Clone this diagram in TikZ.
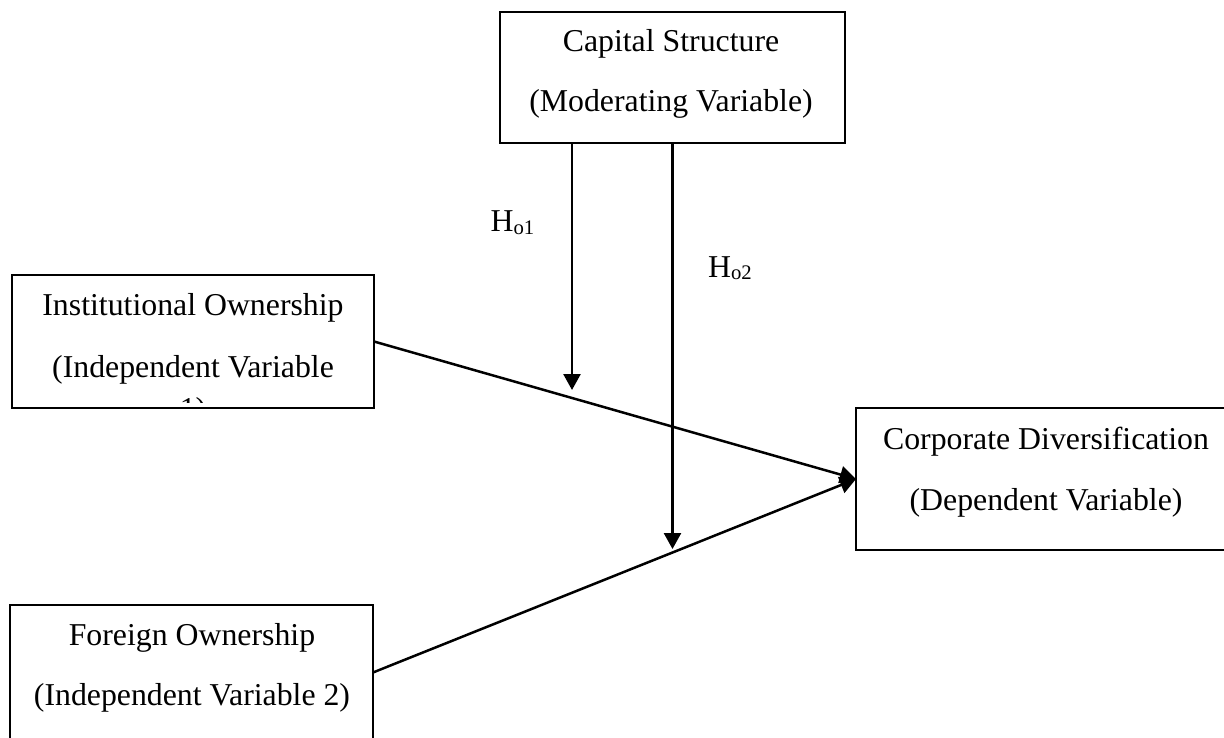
\documentclass[tikz,border=0pt]{standalone}
\usepackage{fontspec}
\setmainfont{Liberation Serif}
\usetikzlibrary{arrows.meta}
\begin{document}
\begin{tikzpicture}[x=1pt,y=-1pt,
  box/.style={draw, line width=2pt, rectangle, inner sep=0pt, outer sep=0pt},
  txt/.style={anchor=base, inner sep=0pt, font=\fontsize{31.8}{38}\selectfont},
  conn/.style={line width=2.5pt, -{Triangle[length=16pt,width=17pt]}},
  hlab/.style={anchor=base, inner sep=0pt, font=\fontsize{31.8}{38}\selectfont}]
\useasboundingbox (0,0) rectangle (1224,738);
\clip (0,0) rectangle (1224,738);

% boxes
\node[box, minimum width=345pt, minimum height=131.5pt] (cap) at (672.5,77.75) {};
\node[box, minimum width=362pt, minimum height=133pt] (inst) at (193,341.5) {};
\node[box, minimum width=380pt, minimum height=142pt] (corp) at (1046,479) {};
\node[box, minimum width=363pt, minimum height=135pt] (fore) at (191.5,672.5) {};

% texts
\node[txt] (capA) at (671,52) {Capital Structure};
\node[txt] (capB) at (671,112) {(Moderating Variable)};
\node[txt] (instA) at (193,315) {Institutional Ownership};
\node[txt] (instB) at (193,377) {(Independent Variable};
\begin{scope}
  \clip (12,380) rectangle (374,402);
  \node[txt] (instC) at (193,419) {1)};
\end{scope}
\node[txt] (corpA) at (1046,449) {Corporate Diversification};
\node[txt] (corpB) at (1046,510) {(Dependent Variable)};
\node[txt] (foreA) at (192,645) {Foreign Ownership};
\node[txt] (foreB) at (192,705) {(Independent Variable 2)};

% hypothesis labels
\node[hlab] (h1) at (512.5,232) {H\raisebox{-2.5pt}{\fontsize{20.7}{22}\selectfont o1}};
\node[hlab] (h2) at (730,277) {H\raisebox{-2.5pt}{\fontsize{20.7}{22}\selectfont o2}};

% connector free ends
\coordinate (a1s) at (572,143.5);
\coordinate (a1e) at (572,390);
\coordinate (a2e) at (672.5,549);

\draw[conn] (a1s) -- (a1e);
\draw[conn] (cap.south) -- (a2e);
\draw[conn] (inst.east) -- (corp.west);
\draw[conn] (fore.east) -- (corp.west);
\end{tikzpicture}
\end{document}
